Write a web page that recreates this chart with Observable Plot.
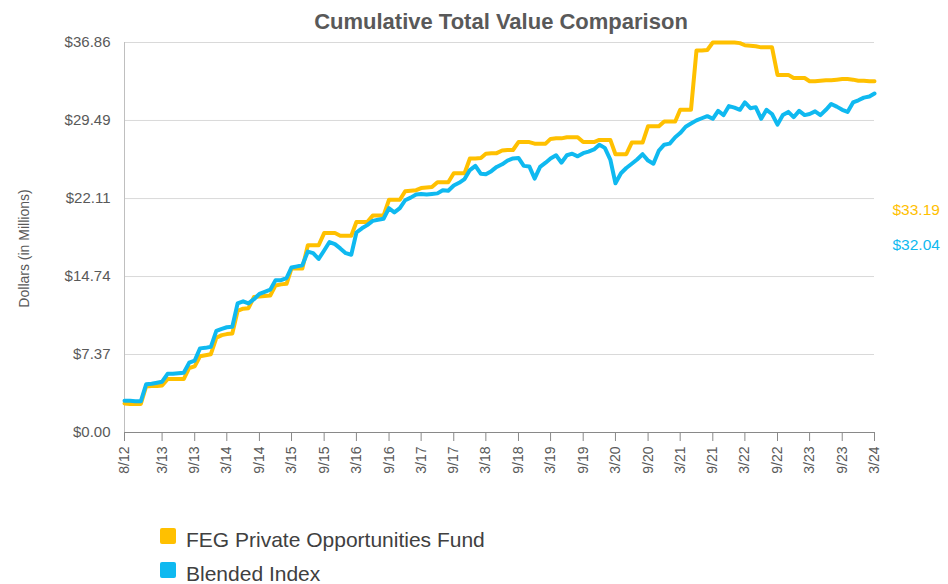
<!DOCTYPE html>
<html>
<head>
<meta charset="utf-8">
<script src="https://cdn.jsdelivr.net/npm/d3@7"></script>
<script src="https://cdn.jsdelivr.net/npm/@observablehq/plot@0.6"></script>
<style>
  html, body { margin: 0; padding: 0; background: #ffffff; }
  body { width: 948px; height: 584px; overflow: hidden; font-family: "Liberation Sans", Arial, Helvetica, sans-serif; color: #595959; }
  #title { height: 26px; padding-top: 8px; line-height: 28px; text-align: center; font-size: 22px; font-weight: bold; color: #595959; padding-left: 54px; }
  #chart svg { display: block; overflow: visible; }
  #legend { margin-top: 41px; padding-left: 160px; }
  .row { display: flex; align-items: center; height: 34px; }
  .sw { width: 16px; height: 16px; border-radius: 2px; margin-right: 10px; position: relative; top: -4px; }
  .lbl { font-size: 21px; color: #404040; }
</style>
</head>
<body>
<div id="title">Cumulative Total Value Comparison</div>
<div id="chart"></div>
<div id="legend"></div>
<script>
// Series names and colours
const seriesNames = ["FEG Private Opportunities Fund", "Blended Index"];
const seriesColors = ["#FFC000", "#0FB9F0"];

// Monthly observations, Aug 2012 .. Mar 2024 (140 months)
const months = d3.utcMonth.range(new Date(Date.UTC(2012, 7, 1)), new Date(Date.UTC(2024, 3, 1)));

// FEG Private Opportunities Fund, $ millions
const feg = [
  2.75, 2.7, 2.7, 2.7, 4.35, 4.4, 4.4, 4.45, 5.05, 5.05, 5.05, 5.05,
  6.1, 6.25, 7.2, 7.3, 7.4, 8.95, 9.2, 9.3, 9.35, 11.5, 11.7, 11.75,
  12.8, 12.85, 12.9, 12.95, 13.9, 14.0, 14.05, 15.5, 15.5, 15.5, 17.7, 17.7,
  17.7, 18.85, 18.85, 18.85, 18.6, 18.6, 18.6, 19.9, 19.9, 19.9, 20.5, 20.5,
  20.5, 22.0, 22.0, 22.0, 22.8, 22.85, 22.9, 23.1, 23.15, 23.2, 23.65, 23.65,
  23.65, 24.5, 24.5, 24.5, 25.9, 25.9, 25.95, 26.35, 26.4, 26.4, 26.65, 26.7,
  26.7, 27.45, 27.45, 27.45, 27.3, 27.3, 27.3, 27.75, 27.8, 27.8, 27.9, 27.9,
  27.9, 27.45, 27.45, 27.45, 27.65, 27.65, 27.65, 26.3, 26.3, 26.3, 27.4, 27.4,
  27.4, 28.95, 28.95, 28.95, 29.4, 29.4, 29.4, 30.5, 30.5, 30.5, 36.1, 36.1,
  36.15, 36.86, 36.86, 36.86, 36.86, 36.86, 36.8, 36.6, 36.55, 36.5, 36.4, 36.4,
  36.4, 33.8, 33.8, 33.8, 33.5, 33.5, 33.5, 33.2, 33.2, 33.25, 33.3, 33.3,
  33.35, 33.4, 33.4, 33.35, 33.25, 33.25, 33.2, 33.19
];

// Blended Index, $ millions
const blended = [
  3.0, 3.0, 2.95, 2.95, 4.55, 4.6, 4.7, 4.8, 5.55, 5.55, 5.6, 5.65,
  6.6, 6.8, 7.95, 8.0, 8.1, 9.6, 9.8, 9.95, 10.0, 12.2, 12.4, 12.2,
  12.6, 13.1, 13.3, 13.5, 14.4, 14.4, 14.6, 15.6, 15.7, 15.8, 17.1, 16.95,
  16.4, 17.2, 18.0, 17.8, 17.4, 16.95, 16.8, 18.9, 19.3, 19.6, 20.0, 20.1,
  20.2, 21.2, 20.8, 21.2, 21.95, 22.2, 22.5, 22.55, 22.5, 22.55, 22.6, 22.9,
  22.85, 23.35, 23.6, 23.95, 24.8, 25.2, 24.45, 24.4, 24.7, 25.1, 25.35, 25.7,
  25.9, 25.95, 25.2, 25.15, 24.0, 25.1, 25.5, 25.9, 26.2, 25.5, 26.2, 26.35,
  26.1, 26.4, 26.55, 26.75, 27.2, 26.9, 25.8, 23.55, 24.5, 25.0, 25.4, 25.8,
  26.3, 25.7, 25.4, 26.65, 27.2, 27.3, 27.9, 28.3, 28.9, 29.2, 29.5, 29.7,
  29.9, 29.65, 30.4, 30.0, 30.85, 30.7, 30.5, 31.2, 30.65, 30.75, 29.65, 30.5,
  30.1, 29.1, 30.0, 30.3, 29.8, 30.4, 30.0, 30.1, 30.35, 30.0, 30.5, 31.05,
  30.8, 30.5, 30.3, 31.2, 31.4, 31.65, 31.75, 32.04
];

// Axis ticks
const yTicks = [0, 7.37, 14.74, 22.11, 29.49, 36.86];
const xTickLabels = ["8/12","3/13","9/13","3/14","9/14","3/15","9/15","3/16","9/16","3/17","9/17","3/18",
  "9/18","3/19","9/19","3/20","9/20","3/21","9/21","3/22","9/22","3/23","9/23","3/24"];
const xTicks = xTickLabels.map(s => { const [m, y] = s.split("/"); return new Date(Date.UTC(2000 + +y, +m - 1, 1)); });

const rows = [];
months.forEach((d, i) => {
  rows.push({date: d, value: feg[i], series: seriesNames[0]});
});
months.forEach((d, i) => {
  rows.push({date: d, value: blended[i], series: seriesNames[1]});
});

const fmt = v => "$" + v.toFixed(2);

const chart = Plot.plot({
  width: 948,
  height: 448,
  marginLeft: 124,
  marginRight: 74,
  marginTop: 8,
  marginBottom: 50,
  style: {fontFamily: '"Liberation Sans", Arial, Helvetica, sans-serif', color: "#595959", background: "#ffffff", overflow: "visible"},
  x: {type: "utc", domain: [months[0], months[months.length - 1]]},
  y: {domain: [0, 36.86]},
  color: {domain: seriesNames, range: seriesColors},
  marks: [
    Plot.gridY(yTicks.slice(1), {stroke: "#d9d9d9", strokeOpacity: 1}),
    Plot.frame({anchor: "left", stroke: "#bfbfbf"}),
    Plot.axisY(yTicks, {tickSize: 0, tickPadding: 14, tickFormat: fmt, fontSize: 15, label: null, fill: "#595959"}),
    Plot.axisX(xTicks, {tickSize: 9, tickPadding: 5, tickRotate: -90, tickFormat: d3.utcFormat("%-m/%y"), fontSize: 14, label: null, stroke: "#898989", fill: "#595959"}),
    Plot.ruleY([0], {stroke: "#898989"}),
    Plot.text(["Dollars (in Millions)"], {frameAnchor: "left", textAnchor: "middle", dx: -100, dy: 11, rotate: -90, fontSize: 14, fill: "#595959"}),
    Plot.line(rows.filter(r => r.series === seriesNames[0]), {x: "date", y: "value", stroke: "series", strokeWidth: 4, strokeLinejoin: "round"}),
    Plot.line(rows.filter(r => r.series === seriesNames[1]), {x: "date", y: "value", stroke: "series", strokeWidth: 4, strokeLinejoin: "round"}),
    Plot.text([fmt(feg[feg.length - 1])], {frameAnchor: "right", dx: 18, dy: -27, textAnchor: "start", fontSize: 15.5, fill: seriesColors[0]}),
    Plot.text([fmt(blended[blended.length - 1])], {frameAnchor: "right", dx: 18, dy: 8, textAnchor: "start", fontSize: 15.5, fill: seriesColors[1]})
  ]
});
document.getElementById("chart").appendChild(chart);

const legend = document.getElementById("legend");
seriesNames.forEach((name, i) => {
  const row = document.createElement("div");
  row.className = "row";
  const sw = document.createElement("div");
  sw.className = "sw";
  sw.style.background = seriesColors[i];
  const lbl = document.createElement("span");
  lbl.className = "lbl";
  lbl.textContent = name;
  row.appendChild(sw);
  row.appendChild(lbl);
  legend.appendChild(row);
});
</script>
</body>
</html>
